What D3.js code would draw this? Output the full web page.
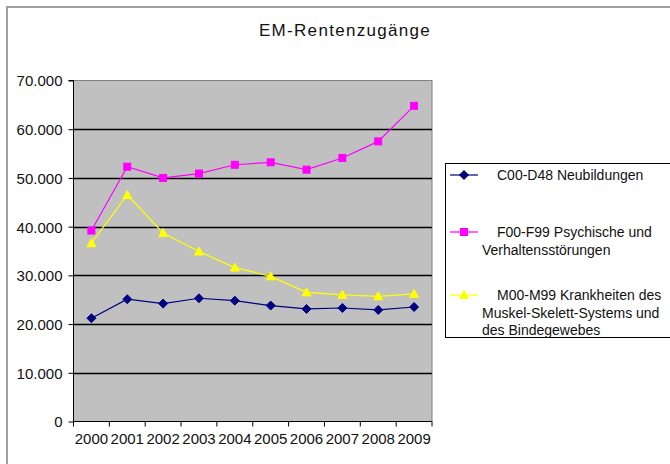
<!DOCTYPE html>
<html>
<head>
<meta charset="utf-8">
<script src="https://cdn.jsdelivr.net/npm/d3@7"></script>
<style>
  body { margin: 0; background: #fff; }
  text { font-family: "Liberation Sans", Arial, sans-serif; fill: #111; }
</style>
</head>
<body>
<svg id="chart" width="670" height="464"></svg>
<script>
// data
let years = ['2000','2001','2002','2003','2004','2005','2006','2007','2008','2009']
let neubildungen = [21200, 25100, 24200, 25300, 24800, 23800, 23100, 23300, 22900, 23500]
let psychische = [39200, 52300, 50000, 50900, 52700, 53200, 51700, 54100, 57500, 64800]
let muskel = [36600, 46500, 38700, 34900, 31600, 29800, 26500, 26000, 25700, 26200]
let yTicks = [0, 10000, 20000, 30000, 40000, 50000, 60000, 70000]

let series = [
  {name: ['C00-D48 Neubildungen'], values: neubildungen, color: '#000080', shape: 'diamond'},
  {name: ['F00-F99 Psychische und', 'Verhaltensstörungen'], values: psychische, color: '#ff00ff', shape: 'square'},
  {name: ['M00-M99 Krankheiten des', 'Muskel-Skelett-Systems und', 'des Bindegewebes'], values: muskel, color: '#ffff00', shape: 'triangle'}
]

let svg = d3.select('#chart')

// outer frame
svg.append('path')
  .attr('d', 'M7,464 V7 H670')
  .style('fill', 'none')
  .style('stroke', '#a0a0a0')
  .style('stroke-width', 2)

svg.append('text')
  .attr('x', 345)
  .attr('y', 36)
  .attr('text-anchor', 'middle')
  .style('font-size', '17px')
  .style('letter-spacing', '1.3px')
  .text('EM-Rentenzugänge')

let x = d3.scaleBand().domain(years).range([73.5, 432])
let y = d3.scaleLinear().domain([0, 70000]).range([421.5, 80.5])

svg.append('rect')
  .attr('x', 73.5).attr('y', 80.5)
  .attr('width', 432 - 73.5).attr('height', 421.5 - 80.5)
  .style('fill', '#c0c0c0')
  .style('stroke', '#808080')

// gridlines
svg.selectAll('line.grid').data(yTicks.slice(1, -1)).enter().append('line')
  .attr('class', 'grid')
  .attr('x1', 73.5).attr('x2', 432)
  .attr('y1', d => Math.round(y(d)) + 0.5).attr('y2', d => Math.round(y(d)) + 0.5)
  .style('stroke', '#000')
  .style('stroke-width', 1.3)

let fmt = d => d3.format(',')(d).replace(/,/g, '.')

let yAxis = svg.append('g')
  .attr('transform', 'translate(73.5,0)')
  .call(d3.axisLeft(y).tickValues(yTicks).tickFormat(fmt).tickSize(5).tickPadding(6))
yAxis.select('.domain').attr('d', 'M-5,80.5 H0 V421.5')
yAxis.selectAll('text').style('font-size', '15px').style('fill', '#111').attr('dy', '0.36em')
yAxis.selectAll('line').style('stroke', '#000')

let xAxis = svg.append('g')
  .attr('transform', 'translate(0,421.5)')
  .call(d3.axisBottom(x).tickSize(0).tickPadding(12))
xAxis.select('.domain').attr('d', 'M73.5,0 H432')
xAxis.selectAll('text').style('font-size', '15px').style('fill', '#111')
xAxis.append('g').selectAll('line').data(years.concat(['end'])).enter().append('line')
  .attr('x1', (d, i) => 73.5 + i * x.bandwidth()).attr('x2', (d, i) => 73.5 + i * x.bandwidth())
  .attr('y1', 0).attr('y2', 5)
  .style('stroke', '#000')

function marker(g, shape, color) {
  if (shape === 'diamond') {
    g.append('path').attr('d', 'M0,-4.5 L4.5,0 L0,4.5 L-4.5,0 Z').style('fill', color).style('stroke', color)
  } else if (shape === 'square') {
    g.append('rect').attr('x', -3.5).attr('y', -3.5).attr('width', 7).attr('height', 7).style('fill', color).style('stroke', color)
  } else {
    g.append('path').attr('d', 'M0,-4.5 L4.5,3.5 L-4.5,3.5 Z').style('fill', color).style('stroke', color)
  }
}

let line = d3.line().x((d, i) => x(years[i]) + x.bandwidth() / 2).y(d => y(d))

series.forEach(s => {
  svg.append('path')
    .attr('d', line(s.values))
    .style('fill', 'none')
    .style('stroke', s.color)
    .style('stroke-width', 1.2)
  s.values.forEach((v, i) => {
    let g = svg.append('g').attr('transform', `translate(${x(years[i]) + x.bandwidth() / 2},${y(v)})`)
    marker(g, s.shape, s.color)
  })
})

// legend
svg.append('rect')
  .attr('x', 445.5).attr('y', 163.5)
  .attr('width', 240).attr('height', 174)
  .style('fill', '#fff')
  .style('stroke', '#000')

let legendY = [175, 232, 295]
series.forEach((s, k) => {
  let ly = legendY[k]
  svg.append('line')
    .attr('x1', 450).attr('x2', 478).attr('y1', ly).attr('y2', ly)
    .style('stroke', s.color).style('stroke-width', 1.2)
  let g = svg.append('g').attr('transform', `translate(464,${ly})`)
  marker(g, s.shape, s.color)
  s.name.forEach((t, j) => {
    svg.append('text')
      .attr('x', j === 0 ? 497 : 482)
      .attr('y', ly + j * 17.5 + 5)
      .style('font-size', '14px')
      .text(t)
  })
})
</script>
</body>
</html>
